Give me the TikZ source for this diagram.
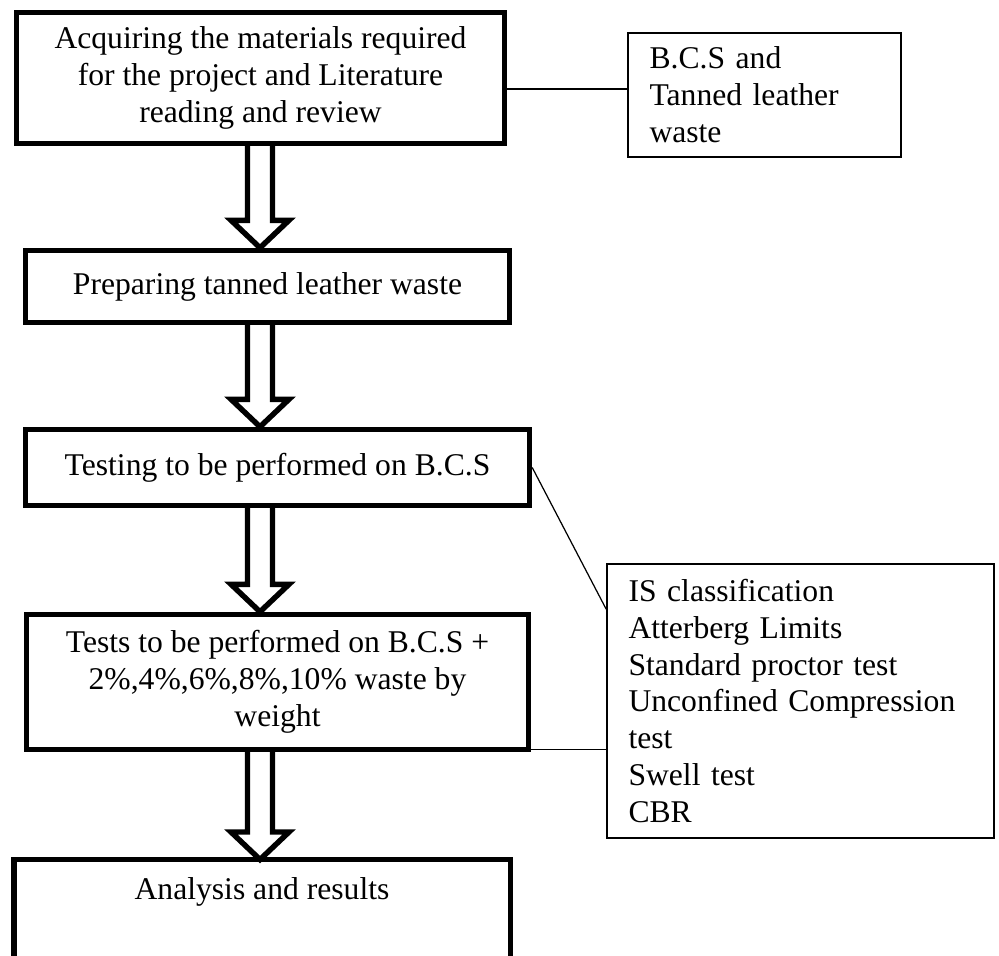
\documentclass[tikz,border=0pt]{standalone}
\usepackage{fontspec}
\setmainfont{Liberation Serif}
\usetikzlibrary{calc}

\begin{document}
\begin{tikzpicture}[
    every node/.style={font=\fontsize{18}{21}\selectfont},
    stage/.style={rectangle, draw, line width=3.1pt, align=center, inner sep=2pt},
    side/.style={rectangle, draw, line width=0.9pt, align=left,
                 inner xsep=0.43cm, inner ysep=2pt},
    lnk/.style={line width=0.7pt},
    hollow/.style={line width=3.1pt, line join=miter, to path={
        let \p1=(\tikztostart), \p2=(\tikztotarget) in
        (\x1-0.25cm,\y1) -- (\x1-0.25cm,\y2+0.55cm) -- (\x1-0.58cm,\y2+0.55cm)
        -- (\x1,\y2) -- (\x1+0.58cm,\y2+0.55cm) -- (\x1+0.25cm,\y2+0.55cm)
        -- (\x1+0.25cm,\y1)}},
  ]
  \useasboundingbox (0,0) rectangle (19.98,-19.1);
  \coordinate (ax) at (5.2,0);
  \node[stage, minimum width=9.76cm, minimum height=2.62cm] (acq) at (5.21,-1.56)
    {Acquiring the materials required\\for the project and Literature\\reading and review};
  \node[stage, minimum width=9.68cm, minimum height=1.44cm] (prep) at (5.35,-5.73)
    {Preparing tanned leather waste};
  \node[stage, minimum width=10.08cm, minimum height=1.52cm] (bcs) at (5.55,-9.35)
    {Testing to be performed on B.C.S};
  \node[stage, minimum width=10.04cm, minimum height=2.70cm] (mix) at (5.55,-13.64)
    {Tests to be performed on B.C.S +\\2\%,4\%,6\%,8\%,10\% waste by\\weight};
  \node[stage, draw=none, minimum width=9.82cm, minimum height=1.2cm, anchor=north] (res)
    at (5.24,-17.19) {Analysis and results};
  \node[side, text width=4.6cm, minimum height=2.48cm] (mat) at (15.29,-1.90)
    {B.C.S and\\Tanned leather\\waste};
  \node[side, text width=6.88cm, minimum height=5.48cm] (tst) at (16.01,-14.02)
    {IS classification\\Atterberg Limits\\Standard proctor test\\Unconfined Compression\\test\\Swell test\\CBR};
  % open box at the bottom
  \draw[line width=3.1pt] (res.north west |- 0,-19.3) -- (res.north west)
    -- (res.north east) -- (res.north east |- 0,-19.3);
  \draw[hollow] (acq.south -| ax) to (prep.north -| ax);
  \draw[hollow] (prep.south -| ax) to (bcs.north -| ax);
  \draw[hollow] (bcs.south -| ax) to (mix.north -| ax);
  \draw[hollow] (mix.south -| ax) to (res.north -| ax);
  \draw[lnk] ([yshift=-0.22cm]acq.east) -- ([yshift=-0.22cm]acq.east -| mat.west);
  \draw[lnk] (bcs.east) -- ([yshift=-0.92cm]tst.north west);
  \draw[lnk] ([yshift=0.05cm]mix.south east) -- ([yshift=0.05cm]mix.south east -| tst.west);
\end{tikzpicture}
\end{document}
